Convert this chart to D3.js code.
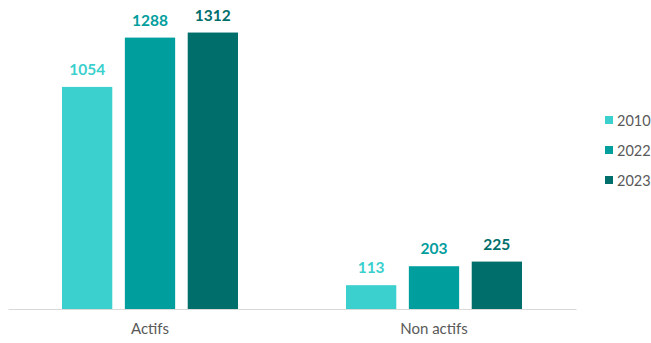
<!DOCTYPE html>
<html>
<head>
<meta charset="utf-8">
<script src="https://cdn.jsdelivr.net/npm/d3@7"></script>
<style>
  html, body { margin: 0; padding: 0; background: #fff; }
  svg { display: block; font-family: Lato, "Open Sans", sans-serif; }
</style>
</head>
<body>
<svg id="chart" width="651" height="343"></svg>
<script>
// Categories, series and values
const categories = ["Actifs", "Non actifs"];
const years = ["2010", "2022", "2023"];
const values2010 = [1054, 113];
const values2022 = [1288, 203];
const values2023 = [1312, 225];
const colors = ["#3BD0CE", "#009E9D", "#006E6B"];

const seriesValues = [values2010, values2022, values2023];
const rows = categories.map((c, i) => ({
  category: c,
  bars: years.map((y, j) => ({ year: y, value: seriesValues[j][i], color: colors[j] }))
}));

const svg = d3.select("#chart");
const margin = { left: 8, right: 75, top: 14, bottom: 34 };
const W = 651, H = 343;

const x0 = d3.scaleBand()
  .domain(categories)
  .range([margin.left, W - margin.right])
  .paddingInner(0)
  .paddingOuter(0);

const x1 = d3.scaleBand()
  .domain(years)
  .range([0, 176])
  .paddingInner(0.2);

const y = d3.scaleLinear()
  .domain([0, 1400])
  .range([H - margin.bottom, margin.top]);

// Bars and value labels
const groups = svg.selectAll("g.group")
  .data(rows)
  .join("g")
  .attr("class", "group")
  .attr("transform", d => `translate(${x0(d.category) + (x0.bandwidth() - 176) / 2},0)`);

groups.selectAll("rect")
  .data(d => d.bars)
  .join("rect")
  .attr("x", d => x1(d.year))
  .attr("width", x1.bandwidth())
  .attr("y", d => y(d.value))
  .attr("height", d => y(0) - y(d.value))
  .attr("fill", d => d.color);

groups.selectAll("text.value")
  .data(d => d.bars)
  .join("text")
  .attr("class", "value")
  .attr("x", d => x1(d.year) + x1.bandwidth() / 2)
  .attr("y", d => y(d.value) - 12)
  .attr("text-anchor", "middle")
  .attr("font-size", 15.5)
  .attr("font-weight", "bold")
  .attr("fill", d => d.color)
  .text(d => d.value);

// Category axis
const xAxis = svg.append("g")
  .attr("transform", `translate(0,${y(0)})`)
  .call(d3.axisBottom(x0).tickSize(0).tickPadding(14));
xAxis.select(".domain").attr("stroke", "#D9D9D9").attr("stroke-width", 1.2);
xAxis.selectAll("text")
  .attr("font-family", "Lato, 'Open Sans', sans-serif")
  .attr("font-size", 15)
  .attr("fill", "#595959");

// Legend
const legend = svg.append("g").attr("transform", "translate(605,120)");
const items = legend.selectAll("g")
  .data(years)
  .join("g")
  .attr("transform", (d, i) => `translate(0,${i * 30})`);
items.append("rect")
  .attr("x", 0).attr("y", -4)
  .attr("width", 8).attr("height", 8)
  .attr("fill", (d, i) => colors[i]);
items.append("text")
  .attr("x", 12).attr("y", 5.5)
  .attr("font-size", 14.5)
  .attr("fill", "#595959")
  .text(d => d);
</script>
</body>
</html>
